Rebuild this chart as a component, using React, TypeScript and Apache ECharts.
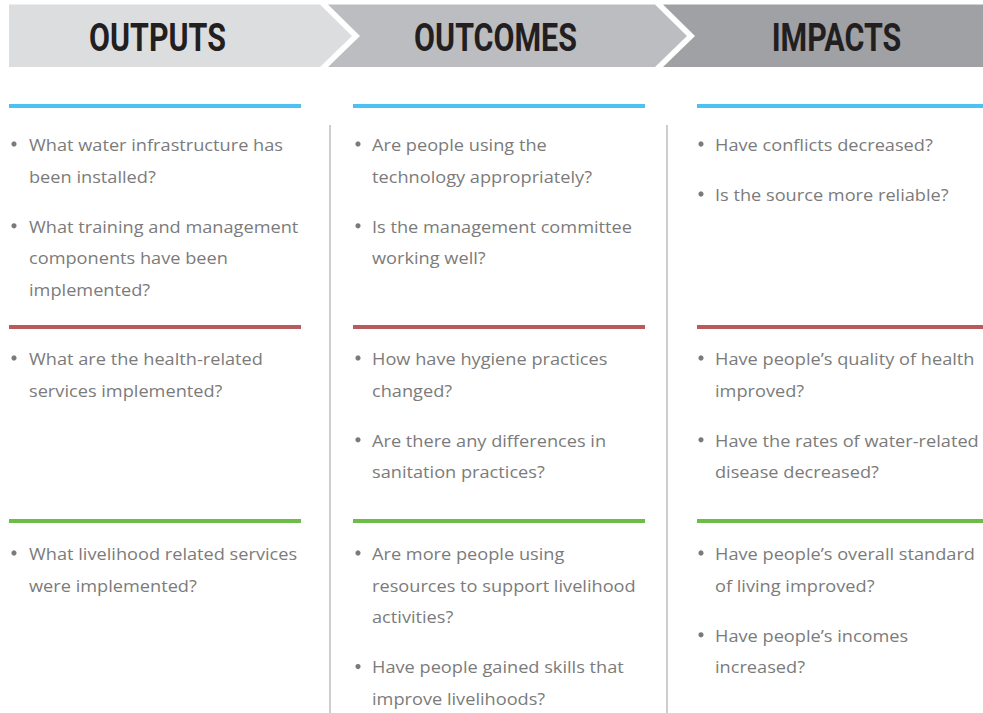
import React, { useEffect, useRef } from "react";
import * as echarts from "echarts";

const headers = ["OUTPUTS", "OUTCOMES", "IMPACTS"];
const headerColors = ["#dcdddf", "#bcbdc1", "#a0a1a5"];
const sectionColors = ["#4dc2f0", "#b95a5d", "#6cbd45"];

// Each column: three sections (water, health, livelihood); each section: items; each item: lines
const outputsItems = [
  [["What water infrastructure has", "been installed?"], ["What training and management", "components have been", "implemented?"]],
  [["What are the health-related", "services implemented?"]],
  [["What livelihood related services", "were implemented?"]],
];
const outcomesItems = [
  [["Are people using the", "technology appropriately?"], ["Is the management committee", "working well?"]],
  [["How have hygiene practices", "changed?"], ["Are there any differences in", "sanitation practices?"]],
  [["Are more people using", "resources to support livelihood", "activities?"], ["Have people gained skills that", "improve livelihoods?"]],
];
const impactsItems = [
  [["Have conflicts decreased?"], ["Is the source more reliable?"]],
  [["Have people\u2019s quality of health", "improved?"], ["Have the rates of water-related", "disease decreased?"]],
  [["Have people\u2019s overall standard", "of living improved?"], ["Have people\u2019s incomes", "increased?"]],
];
const columns = [outputsItems, outcomesItems, impactsItems];

export default function App() {
  const ref = useRef<HTMLDivElement>(null);
  useEffect(() => {
    document.body.style.margin = "0";
    const chart = echarts.init(ref.current!, null, { renderer: "svg" });
    const top = 4.5, bot = 67, mid = 36, tip = 32, gap = 8;
    const elements: any[] = [];

    // header chevrons
    const h1x = 9, h1r = 320, h2r = 655, h3r = 983;
    elements.push({
      type: "polygon",
      shape: { points: [[h1x, top], [h1r, top], [h1r + tip, mid], [h1r, bot], [h1x, bot]] },
      style: { fill: headerColors[0] },
    });
    elements.push({
      type: "polygon",
      shape: { points: [[h1r + gap, top], [h2r, top], [h2r + tip, mid], [h2r, bot], [h1r + gap, bot], [h1r + gap + tip, mid]] },
      style: { fill: headerColors[1] },
    });
    elements.push({
      type: "polygon",
      shape: { points: [[h2r + gap, top], [h3r, top], [h3r, bot], [h2r + gap, bot], [h2r + gap + tip, mid]] },
      style: { fill: headerColors[2] },
    });
    const headerCx = [157.5, 495.5, 836.5];
    headers.forEach((h, i) => {
      elements.push({
        type: "text",
        x: headerCx[i],
        y: 38.5,
        scaleX: 0.78,
        style: {
          text: h,
          fill: "#231f20",
          font: "bold 39px Roboto, 'Liberation Sans', sans-serif",
          align: "center",
          verticalAlign: "middle",
        },
      });
    });

    // column geometry
    const colX = [9, 353, 697];
    const colW = [292, 292, 286];
    const bulletX = [14, 358, 701];
    const textX = [29, 372, 715];
    const sectionY = [106, 327, 521];
    const firstTextY = [144, 358, 553];
    const lineH = 31.8;
    const itemGap = 50;

    // vertical dividers
    [330, 667].forEach((x) => {
      elements.push({
        type: "line",
        shape: { x1: x, y1: 125, x2: x, y2: 713 },
        style: { stroke: "#b3b3b3", lineWidth: 1.3 },
      });
    });

    columns.forEach((col, ci) => {
      col.forEach((section, si) => {
        elements.push({
          type: "rect",
          shape: { x: colX[ci], y: sectionY[si] - 2, width: colW[ci], height: 4 },
          style: { fill: sectionColors[si] },
        });
        let y = firstTextY[si];
        section.forEach((item) => {
          elements.push({
            type: "circle",
            shape: { cx: bulletX[ci], cy: y, r: 2.6 },
            style: { fill: "#7a7a7a" },
          });
          item.forEach((ln, li) => {
            elements.push({
              type: "text",
              x: textX[ci],
              y: y + li * lineH,
              scaleX: 1.07,
              style: {
                text: ln,
                fill: "#7b7b7b",
                font: "17px 'Open Sans', 'Liberation Sans', Arial, sans-serif",
                align: "left",
                verticalAlign: "middle",
              },
            });
          });
          y += (item.length - 1) * lineH + itemGap;
        });
      });
    });

    chart.setOption({
      animation: false,
      backgroundColor: "#ffffff",
      graphic: { elements },
    });
    return () => chart.dispose();
  }, []);
  return <div ref={ref} style={{ width: 983, height: 713 }} />;
}
